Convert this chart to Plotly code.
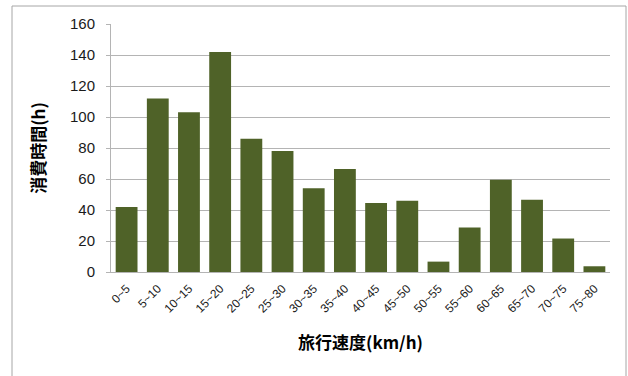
import plotly.graph_objects as go

# Travel-speed bins and time spent in each (hours)
speed_bins = ["0~5", "5~10", "10~15", "15~20", "20~25", "25~30", "30~35", "35~40",
              "40~45", "45~50", "50~55", "55~60", "60~65", "65~70", "70~75", "75~80"]
hours = [42, 112, 103, 142, 86, 78, 54, 66.5, 44.5, 46, 6.7, 28.7, 59.5, 46.6, 21.6, 3.7]
y_ticks = [0, 20, 40, 60, 80, 100, 120, 140, 160]

BAR = "#4f6228"
GRID = "#b4b4b4"
NUM_FONT = "Liberation Sans, Noto Sans, sans-serif"

fig = go.Figure(go.Bar(x=speed_bins, y=hours, marker=dict(color=BAR, line=dict(width=0))))

L, R, T, B = 111, 18, 24, 104
W, H = 628, 376
plot_w, plot_h = W - L - R, H - T - B

fig.update_layout(
    width=W, height=H,
    margin=dict(l=L, r=R, t=T, b=B),
    paper_bgcolor="white", plot_bgcolor="white",
    bargap=0.3,
    showlegend=False,
    xaxis=dict(
        tickangle=-45,
        tickfont=dict(family=NUM_FONT, size=12, color="#1a1a1a"),
        showline=True, linecolor=GRID, linewidth=1,
        showgrid=False, ticks="",
        ticklabelstandoff=4,
        title=dict(text="<b>旅行速度(km/h)</b>",
                   font=dict(family="Noto Sans CJK JP", size=17, color="#000"),
                   standoff=22),
    ),
    yaxis=dict(
        range=[0, 160], tickvals=y_ticks,
        tickfont=dict(family=NUM_FONT, size=15, color="#1a1a1a"),
        showgrid=True, gridcolor=GRID, gridwidth=1,
        showline=True, linecolor=GRID, linewidth=1,
        ticks="outside", ticklen=4, tickcolor=GRID,
        ticklabelstandoff=8,
        zeroline=False,
        title=dict(text="<b>消費時間(h)</b>",
                   font=dict(family="Noto Sans CJK JP", size=17, color="#000"),
                   standoff=20),
    ),
    shapes=[dict(
        type="rect", xref="paper", yref="paper",
        x0=(12 - L) / plot_w, x1=(626 - L) / plot_w,
        y0=(H - B - 390) / plot_h, y1=(H - B - 6) / plot_h,
        line=dict(color="#a6a6a6", width=1), fillcolor="rgba(0,0,0,0)", layer="below",
    )],
)

fig.write_html("out.html")
